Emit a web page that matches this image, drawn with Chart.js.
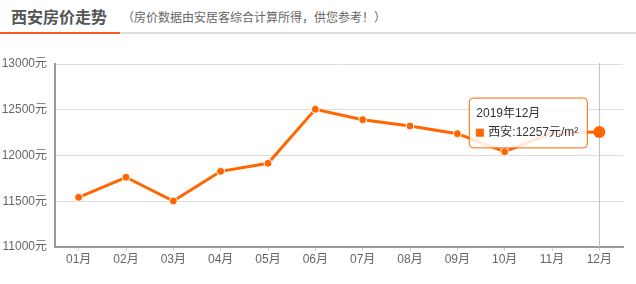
<!DOCTYPE html>
<html>
<head>
<meta charset="utf-8">
<script src="https://cdn.jsdelivr.net/npm/chart.js@4.4.0/dist/chart.umd.min.js"></script>
<style>
  body { margin: 0; background: #fff; width: 636px; height: 284px; overflow: hidden; position: relative; }
  #head { position: absolute; left: 0; top: 0; width: 636px; height: 34px; border-bottom: 2px solid #ddd; box-sizing: border-box; }
  #head .bar { position: absolute; left: 0; bottom: -2px; width: 120px; height: 2px; background: #ff5a1e; }
  #head .t { position: absolute; left: 11px; top: 4px; font: bold 16px "Noto Sans CJK SC", sans-serif; color: #555; }
  #head .s { position: absolute; left: 122px; top: 8px; font: 12px "Noto Sans CJK SC", sans-serif; color: #666; }
  #myChart { position: absolute; left: 0; top: 0; }
</style>
</head>
<body>
<div id="head"><span class="t">西安房价走势</span><span class="s">（房价数据由安居客综合计算所得，供您参考！）</span><div class="bar"></div></div>
<canvas id="myChart" width="636" height="284"></canvas>
<script>
var months = ["01月","02月","03月","04月","05月","06月","07月","08月","09月","10月","11月","12月"];
var prices = [11543, 11762, 11503, 11827, 11915, 12505, 12391, 12322, 12238, 12041, 12245, 12257];
var yTicks = [11000, 11500, 12000, 12500, 13000];
var cityName = "西安";
var year = "2019年";

var fontFamily = "'Liberation Sans', 'Noto Sans CJK SC', sans-serif";

Chart.Tooltip.positioners.side = function (items) {
    if (!items.length) return false;
    var el = items[0].element;
    return { x: el.x, y: el.y - 9 };
};

// vertical line at the hovered month
var crossLine = {
    id: "crossLine",
    beforeDatasetsDraw: function (chart) {
        var act = chart.getActiveElements();
        if (!act.length) return;
        var x = Math.round(act[0].element.x) + 0.5;
        var c = chart.ctx;
        c.save();
        c.strokeStyle = "#c4c4c4";
        c.lineWidth = 1;
        c.beginPath();
        c.moveTo(x, chart.chartArea.top - 1);
        c.lineTo(x, chart.chartArea.bottom);
        c.stroke();
        c.restore();
    }
};

var ctx = document.getElementById("myChart").getContext("2d");
var myGraph = new Chart(ctx, {
    type: "line",
    data: {
        labels: months,
        datasets: [{
            label: cityName,
            data: prices,
            borderColor: "#ff6600",
            backgroundColor: "#ff6600",
            borderWidth: 3,
            tension: 0,
            pointRadius: 4,
            pointBackgroundColor: "#ff6600",
            pointBorderColor: "#ffffff",
            pointBorderWidth: 1,
            pointHoverRadius: 6,
            pointHoverBorderWidth: 0,
            pointHoverBackgroundColor: "#ff6600"
        }]
    },
    options: {
        responsive: false,
        animation: false,
        events: [],
        layout: { padding: { top: 64, right: 13, bottom: 15, left: 0 } },
        scales: {
            x: {
                offset: true,
                afterFit: function (s) { s.height = 22; },
                grid: { drawOnChartArea: false, drawTicks: true, tickLength: 4, color: "#cfcfcf", offset: false },
                border: { color: "#999", width: 2 },
                ticks: { color: "#666", padding: 1, font: { family: fontFamily, size: 12 } }
            },
            y: {
                min: yTicks[0],
                max: yTicks[yTicks.length - 1],
                afterFit: function (s) { s.width = 55; },
                afterBuildTicks: function (s) { s.ticks = yTicks.map(function (v) { return { value: v }; }); },
                grid: { color: "#dddddd", drawTicks: false },
                border: { color: "#999", width: 2 },
                ticks: {
                    color: "#666",
                    padding: 8,
                    font: { family: fontFamily, size: 12 },
                    callback: function (v) { return v + "元"; }
                }
            }
        },
        plugins: {
            legend: { display: false },
            tooltip: {
                position: "side",
                xAlign: "right",
                yAlign: "center",
                caretSize: 0,
                caretPadding: 12,
                backgroundColor: "rgba(255,255,255,0.85)",
                borderColor: "#ff6600",
                borderWidth: 1,
                cornerRadius: 4,
                padding: { top: 8, bottom: 8, left: 7, right: 9 },
                titleColor: "#333",
                bodyColor: "#333",
                titleFont: { family: fontFamily, size: 12, weight: "normal" },
                bodyFont: { family: fontFamily, size: 12 },
                titleMarginBottom: 5,
                boxWidth: 7,
                boxHeight: 7,
                boxPadding: 3,
                multiKeyBackground: "#ff6600",
                callbacks: {
                    title: function (items) { return year + items[0].label; },
                    label: function (item) { return item.dataset.label + ":" + item.raw + "元/m²"; },
                    labelColor: function () { return { borderColor: "#ff6600", backgroundColor: "#ff6600", borderWidth: 1 }; }
                }
            }
        }
    },
    plugins: [crossLine]
});

var last = prices.length - 1;
myGraph.setActiveElements([{ datasetIndex: 0, index: last }]);
myGraph.tooltip.setActiveElements([{ datasetIndex: 0, index: last }], { x: 0, y: 0 });
myGraph.update();
</script>
</body>
</html>
